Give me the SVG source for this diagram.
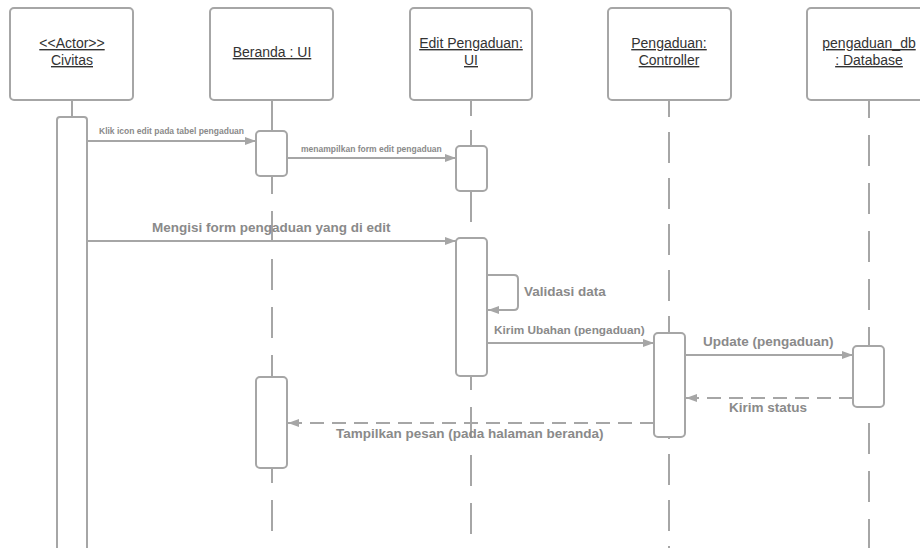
<svg xmlns="http://www.w3.org/2000/svg" width="920" height="548" viewBox="0 0 920 548">
  <style>
    .box { fill: #ffffff; stroke: #a6a6a6; stroke-width: 2; }
    .act { fill: #ffffff; stroke: #a6a6a6; stroke-width: 2; }
    .life { stroke: #a6a6a6; stroke-width: 2; fill: none; }
    .dash { stroke-dasharray: 31 17; }
    .msg { stroke: #a6a6a6; stroke-width: 2; fill: none; }
    .ret { stroke-dasharray: 14 8; }
    .hd { font-family: "Liberation Sans", Arial, sans-serif; font-size: 14px; fill: #333333; text-anchor: middle; text-decoration: underline; }
    .lb { font-family: "Liberation Sans", Arial, sans-serif; font-weight: bold; fill: #8a8a8a; }
  </style>
  <defs>
    <marker id="arrow" markerUnits="userSpaceOnUse" markerWidth="12" markerHeight="10" refX="11" refY="5" orient="auto">
      <path d="M0,1 L11,5 L0,9 Z" fill="#a6a6a6"/>
    </marker>
  </defs>

  <rect width="920" height="548" fill="#ffffff"/>

  <!-- lifelines -->
  <g id="lifelines">
    <line class="life" x1="72" y1="100" x2="72" y2="117"/>
    <line class="life" x1="272" y1="100" x2="272" y2="131"/>
    <line class="life dash" x1="272" y1="176" x2="272" y2="377" stroke-dashoffset="13"/>
    <line class="life dash" x1="272" y1="468" x2="272" y2="548" stroke-dashoffset="16"/>
    <line class="life" x1="471" y1="100" x2="471" y2="116"/>
    <line class="life" x1="471" y1="130" x2="471" y2="146"/>
    <line class="life" x1="471" y1="191" x2="471" y2="222"/>
    <line class="life dash" x1="471" y1="376" x2="471" y2="548" stroke-dashoffset="17"/>
    <line class="life" x1="669" y1="100" x2="669" y2="548" stroke-dasharray="31 15" stroke-dashoffset="14"/>
    <line class="life" x1="869" y1="100" x2="869" y2="548" stroke-dasharray="31 17" stroke-dashoffset="13"/>
  </g>

  <!-- participants -->
  <g id="civitas">
    <rect class="box" x="10" y="8" width="123" height="92" rx="4"/>
    <text class="hd" x="72" y="48">&lt;&lt;Actor&gt;&gt;</text>
    <text class="hd" x="72" y="65">Civitas</text>
    <rect class="act" x="57" y="117" width="30" height="450" rx="3"/>
  </g>
  <g id="beranda">
    <rect class="box" x="210" y="8" width="123" height="92" rx="4"/>
    <text class="hd" x="272" y="57">Beranda : UI</text>
    <rect class="act" x="256" y="131" width="31" height="45" rx="4"/>
    <rect class="act" x="256" y="377" width="31" height="91" rx="4"/>
  </g>
  <g id="edit-pengaduan">
    <rect class="box" x="410" y="8" width="122" height="92" rx="4"/>
    <text class="hd" x="471" y="48">Edit Pengaduan:</text>
    <text class="hd" x="471" y="65">UI</text>
    <rect class="act" x="456" y="146" width="31" height="45" rx="4"/>
    <rect class="act" x="456" y="238" width="31" height="138" rx="4"/>
  </g>
  <g id="controller">
    <rect class="box" x="608" y="8" width="123" height="92" rx="4"/>
    <text class="hd" x="669" y="48">Pengaduan:</text>
    <text class="hd" x="669" y="65">Controller</text>
    <rect class="act" x="654" y="333" width="31" height="104" rx="4"/>
  </g>
  <g id="database">
    <rect class="box" x="807" y="8" width="124" height="92" rx="4"/>
    <text class="hd" x="869" y="48">pengaduan_db</text>
    <text class="hd" x="869" y="65">: Database</text>
    <rect class="act" x="853" y="346" width="31" height="61" rx="4"/>
  </g>

  <!-- messages -->
  <g id="connectors">
    <line class="msg" x1="87" y1="141" x2="256" y2="141" marker-end="url(#arrow)"/>
    <line class="msg" x1="287" y1="158" x2="456" y2="158" marker-end="url(#arrow)"/>
    <line class="msg" x1="87" y1="241" x2="456" y2="241" marker-end="url(#arrow)"/>
    <path class="msg" d="M487,275 H514 Q518,275 518,279 V306 Q518,310 514,310 H488" marker-end="url(#arrow)"/>
    <line class="msg" x1="487" y1="343" x2="654" y2="343" marker-end="url(#arrow)"/>
    <line class="msg" x1="685" y1="355" x2="853" y2="355" marker-end="url(#arrow)"/>
    <line class="msg ret" x1="853" y1="398" x2="686" y2="398" marker-end="url(#arrow)"/>
    <line class="msg ret" x1="654" y1="423" x2="288" y2="423" marker-end="url(#arrow)"/>
  </g>

  <!-- message labels -->
  <g id="labels">
    <text class="lb" x="99" y="134" font-size="8.5">Klik icon edit pada tabel pengaduan</text>
    <text class="lb" x="301" y="152" font-size="8.5">menampilkan form edit pengaduan</text>
    <text class="lb" x="152" y="232" font-size="13.5">Mengisi form pengaduan yang di edit</text>
    <text class="lb" x="524" y="296" font-size="13.5">Validasi data</text>
    <text class="lb" x="494" y="334" font-size="11.8">Kirim Ubahan (pengaduan)</text>
    <text class="lb" x="703" y="346" font-size="13.5">Update (pengaduan)</text>
    <text class="lb" x="729" y="412" font-size="13.5">Kirim status</text>
    <text class="lb" x="336" y="438" font-size="13.5">Tampilkan pesan (pada halaman beranda)</text>
  </g>
</svg>
